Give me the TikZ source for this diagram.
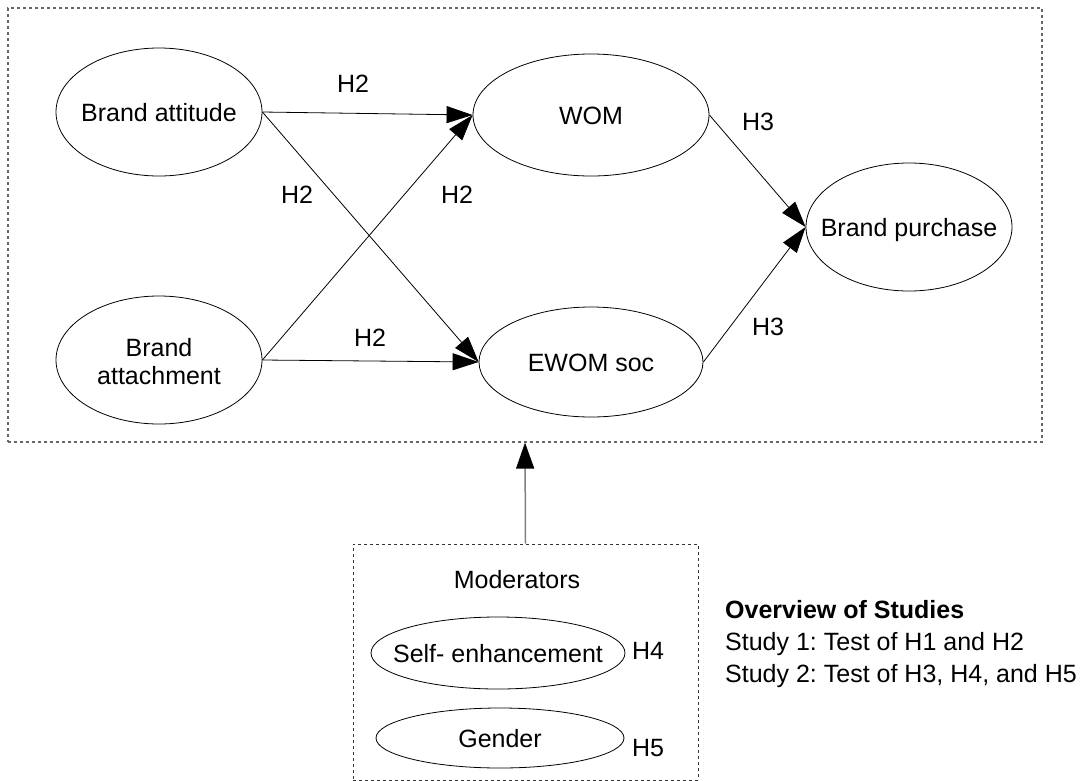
\documentclass[tikz,border=0pt]{standalone}
\usepackage{fontspec}
\setmainfont{Liberation Sans}
\usetikzlibrary{shapes.geometric,arrows.meta}
\frenchspacing
\begin{document}
\begin{tikzpicture}[x=1pt,y=-1pt,
  every node/.style={font=\fontsize{25}{28}\selectfont},
  construct/.style={draw, ellipse, inner sep=0pt, line width=0.8pt},
  ctext/.style={inner sep=0pt, text height=18pt, text depth=0pt},
  hlabel/.style={anchor=base, inner sep=0pt},
  path/.style={line width=0.8pt, -{Triangle[length=26pt,width=17pt]}},
  framebox/.style={draw=black!60, line width=1.2pt, dash pattern=on 3pt off 3pt, inner sep=0pt},
  modframe/.style={draw=black!80, line width=0.9pt, dash pattern=on 3pt off 3pt, inner sep=0pt}]
\useasboundingbox (0,0) rectangle (1090,780);

% model frame and moderator frame
\node[framebox, minimum width=1034pt, minimum height=434pt] (model) at (525,225) {};
\node[modframe, minimum width=345pt, minimum height=236pt] (mods) at (525.5,662) {};

% constructs
\node[construct, minimum width=206pt, minimum height=128pt,
  label={[ctext]center:Brand attitude}] (att) at (159,112) {};
\node[construct, minimum width=206pt, minimum height=128pt,
  label={[inner sep=0pt, align=center, yshift=-2pt]center:Brand\\attachment}] (atc) at (159,360) {};
\node[construct, minimum width=236pt, minimum height=122pt,
  label={[ctext]center:WOM}] (wom) at (591,115) {};
\node[construct, minimum width=224pt, minimum height=110pt,
  label={[ctext]center:EWOM soc}] (ewom) at (591,362) {};
\node[construct, minimum width=206pt, minimum height=128pt,
  label={[ctext]center:Brand purchase}] (buy) at (909,227) {};

% paths
\draw[path] (att.east) -- (wom.west);
\draw[path] (att.east) -- (ewom.west);
\draw[path] (atc.east) -- (wom.west);
\draw[path] (atc.east) -- (ewom.west);
\draw[path] (wom.east) -- (buy.west);
\draw[path] (ewom.east) -- (buy.west);

% hypothesis labels
\node[hlabel] (h2a) at (353,92) {H2};
\node[hlabel] (h2b) at (297,203) {H2};
\node[hlabel] (h2c) at (457,203) {H2};
\node[hlabel] (h2d) at (370,346) {H2};
\node[hlabel] (h3a) at (758,130) {H3};
\node[hlabel] (h3b) at (768,335) {H3};

% moderators
\draw[line width=1.5pt, draw=black!50, -{Triangle[length=26pt,width=18pt,black]}] (mods.north) -- (model.south);
\node[hlabel] (modt) at (517,588) {Moderators};
\node[construct, minimum width=254pt, minimum height=72pt,
  label={[ctext]center:Self- enhancement}] (self) at (498,653) {};
\node[construct, minimum width=248pt, minimum height=60pt,
  label={[ctext]center:Gender}] (gend) at (500,738) {};
\node[hlabel] (h4) at (648,659) {H4};
\node[hlabel] (h5) at (648,756) {H5};

% overview
\node[hlabel, anchor=base west, font=\fontsize{25}{28}\selectfont\bfseries] (ov) at (725,618) {Overview of Studies};
\node[hlabel, anchor=base west] (s1) at (725,650) {Study 1: Test of H1 and H2};
\node[hlabel, anchor=base west] (s2) at (725,682) {Study 2: Test of H3, H4, and H5};
\end{tikzpicture}
\end{document}
